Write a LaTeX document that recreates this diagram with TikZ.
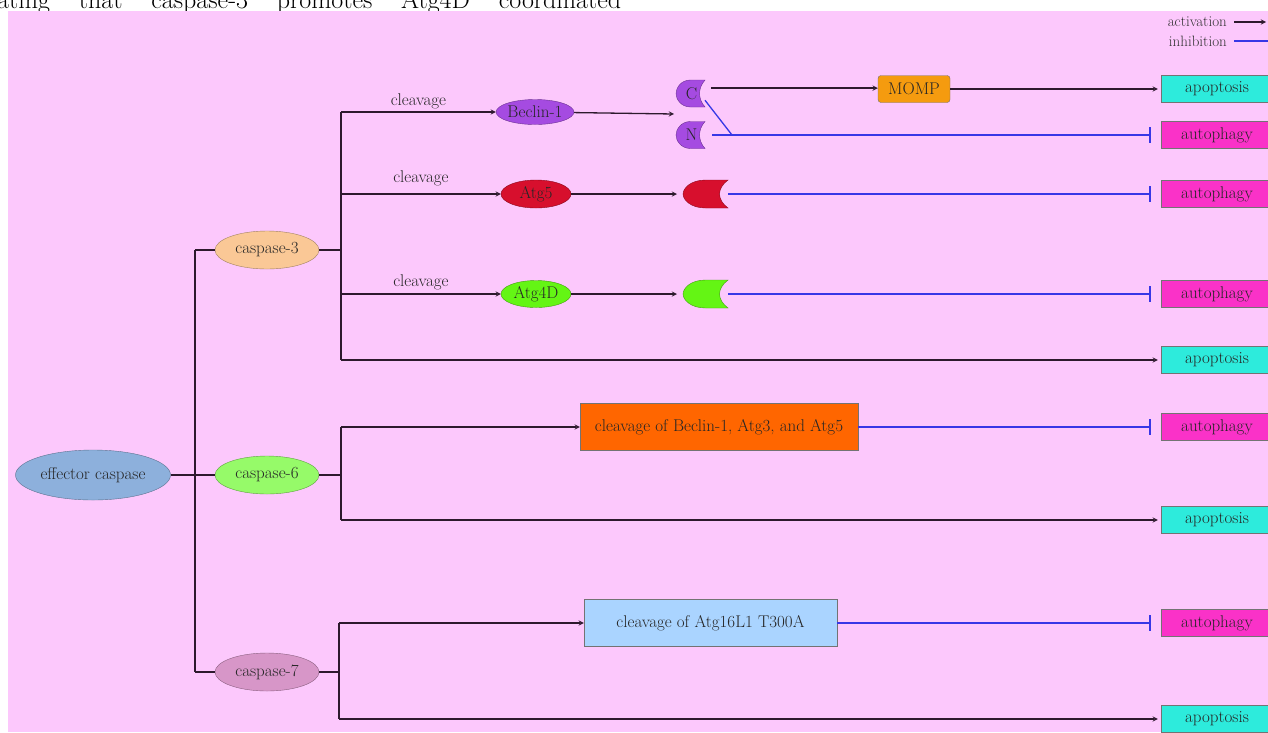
\documentclass[tikz,border=0pt]{standalone}
\usepackage{tikz}
\usetikzlibrary{shapes.geometric, arrows, arrows.meta}
\definecolor{bgpink}{RGB}{252,200,252}
\definecolor{darkline}{RGB}{45,25,45}
\definecolor{inhblue}{RGB}{55,55,230}
\definecolor{effblue}{RGB}{141,176,220}
\definecolor{peach}{RGB}{250,200,150}
\definecolor{lgreen}{RGB}{150,250,105}
\definecolor{mauve}{RGB}{215,150,200}
\definecolor{becpurple}{RGB}{165,75,225}
\definecolor{atgred}{RGB}{215,15,45}
\definecolor{atggreen}{RGB}{100,245,20}
\definecolor{mompor}{RGB}{245,155,15}
\definecolor{cleavor}{RGB}{255,102,0}
\definecolor{cleavblue}{RGB}{170,212,255}
\definecolor{apocyan}{RGB}{45,235,220}
\definecolor{autmag}{RGB}{250,50,200}
\tikzset{
	ellnode/.style={ellipse, inner sep=0pt, draw=#1!65!black, fill=#1, text=black!85, font=\fontsize{17}{20}\selectfont},
	boxnode/.style={rectangle, inner sep=0pt, draw=black!55, fill=#1, text=black!85, font=\fontsize{17}{20}\selectfont},
	outbox/.style={boxnode=#1, minimum width=112pt, minimum height=27pt},
	fragtext/.style={inner sep=0pt, text=black!85, font=\fontsize{17}{20}\selectfont},
	lbl/.style={inner sep=2pt, text=black!85, font=\fontsize{17}{20}\selectfont},
	legtext/.style={inner sep=0pt, text=black!80, font=\fontsize{15}{17}\selectfont},
	trunk/.style={line width=1.3pt, draw=darkline},
	arrow/.style={trunk,->,>=stealth},
	inhline/.style={line width=1.3pt, draw=inhblue},
	inhib/.style={inhline,-{Bar[width=16pt,line width=1.5pt]}},
	pics/fragment/.style n args={3}{code={
		\path[pic actions] ({#1/2},{-#2/2}) -- (0,{-#2/2})
			.. controls ({-#1/3},{-#2/2}) and ({-#1/2},{-#2/5}) .. ({-#1/2},0)
			.. controls ({-#1/2},{#2/5}) and ({-#1/3},{#2/2}) .. (0,{#2/2})
			-- ({#1/2},{#2/2})
			.. controls ({#1/4},{#2/5}) and ({#1/4},{-#2/5}) .. cycle;
		\node[fragtext] at (1,0) {#3};
		\coordinate (-in) at ({-#1/2},0);
		\coordinate (-out) at ({#1/2},0);
		\coordinate (-ne) at ({#1/2},{-#2/5});
		\coordinate (-se) at ({#1/2},{#2/4});
	}}
}
\begin{document}
\begin{tikzpicture}[x=1pt, y=-1pt]
	\useasboundingbox (0,0) rectangle (1268,732);
	
	% Texto cortado acima da figura
	\begin{scope}
		\clip (0,0) rectangle (1268,11);
		\node[anchor=base west, inner sep=0pt, font=\fontsize{26}{30}\selectfont] (captxt) at (-3,8) {\makebox[624pt][s]{ating that caspase-3 promotes Atg4D coordinated}};
	\end{scope}
	\clip (0,0) rectangle (1268,732);
	\fill[bgpink] (8,11) rectangle (1268,732);
	
	% Legenda
	\node[legtext, anchor=east] (lact) at (1227,22) {activation};
	\node[legtext, anchor=east] (linh) at (1227,41) {inhibition};
	\coordinate (lacte) at (1266,22);
	\coordinate (linhe) at (1268,41);
	\draw[arrow, shorten <=7pt] (lact.east) -- (lacte);
	\draw[inhline, shorten <=7pt] (linh.east) -- (linhe);
	
	% Caspases
	\node[ellnode=effblue, minimum width=155pt, minimum height=50pt] (eff) at (93,475) {effector caspase};
	\node[ellnode=peach, minimum width=104pt, minimum height=38pt] (c3) at (267,250) {caspase-3};
	\node[ellnode=lgreen, minimum width=104pt, minimum height=38pt] (c6) at (267,475) {caspase-6};
	\node[ellnode=mauve, minimum width=104pt, minimum height=38pt] (c7) at (267,672) {caspase-7};
	
	\coordinate (tr) at (195,475);
	\coordinate (tr3) at (195,250);
	\coordinate (tr7) at (195,672);
	\draw[trunk] (eff) -- (tr) -- (c6);
	\draw[trunk] (tr3) -- (tr7);
	\draw[trunk] (tr3) -- (c3);
	\draw[trunk] (tr7) -- (c7);
	
	% Resultados
	\node[outbox=apocyan] (apo1) at (1217,89) {apoptosis};
	\node[outbox=autmag] (aut1) at (1217,135) {autophagy};
	\node[outbox=autmag] (aut2) at (1217,194) {autophagy};
	\node[outbox=autmag] (aut3) at (1217,294) {autophagy};
	\node[outbox=apocyan] (apo2) at (1217,360) {apoptosis};
	\node[outbox=autmag] (aut4) at (1217,427) {autophagy};
	\node[outbox=apocyan] (apo3) at (1217,520) {apoptosis};
	\node[outbox=autmag] (aut5) at (1217,623) {autophagy};
	\node[outbox=apocyan] (apo4) at (1217,719) {apoptosis};
	
	% Caspase-3
	\coordinate (s3) at (341,250);
	\coordinate (b3a) at (341,112);
	\coordinate (b3b) at (341,194);
	\coordinate (b3c) at (341,294);
	\coordinate (b3d) at (341,360);
	\draw[trunk] (c3) -- (s3);
	\draw[trunk] (b3a) -- (b3d);
	\node[ellnode=becpurple, minimum width=70pt, minimum height=25pt] (beclin) at (535,112) {Beclin-1};
	\node[ellnode=atgred, minimum width=70pt, minimum height=28pt] (atg5) at (536,194) {Atg5};
	\node[ellnode=atggreen, minimum width=70pt, minimum height=27pt] (atg4d) at (536,294) {Atg4D};
	\draw[arrow] (b3a) -- (beclin) node[lbl, midway, above=0pt] {cleavage};
	\draw[arrow] (b3b) -- (atg5) node[lbl, midway, above=5pt] {cleavage};
	\draw[arrow] (b3c) -- (atg4d) node[lbl, midway, above=1pt] {cleavage};
	
	\pic[fill=becpurple, draw=becpurple!65!black] (fC) at (690.5,93.5) {fragment={29}{27}{C}};
	\pic[fill=becpurple, draw=becpurple!65!black] (fN) at (690.5,135) {fragment={29}{27}{N}};
	\pic[fill=atgred, draw=atgred!65!black] (f5) at (705.5,194) {fragment={45}{28}{}};
	\pic[fill=atggreen, draw=atggreen!65!black] (f4) at (705.5,294) {fragment={45}{28}{}};
	
	\coordinate (cn) at (674,114);
	\coordinate (jn) at (732,135);
	\node[boxnode=mompor, rounded corners=3pt, minimum width=72pt, minimum height=27pt] (momp) at (914,89) {MOMP};
	\draw[arrow] (beclin) -- (cn);
	\draw[arrow, shorten <=6pt] (fC-ne) -- (momp.west |- fC-ne);
	\draw[arrow, shorten >=3pt] (momp) -- (apo1);
	\draw[inhib, shorten <=7pt, shorten >=10pt] (fN-out) -- (aut1);
	\draw[inhline] (fC-se) -- (jn);
	\draw[arrow, shorten >=6pt] (atg5) -- (f5-in);
	\draw[arrow, shorten >=6pt] (atg4d) -- (f4-in);
	\draw[inhib, shorten >=10pt] (f5-out) -- (aut2);
	\draw[inhib, shorten >=10pt] (f4-out) -- (aut3);
	\draw[arrow, shorten >=3pt] (b3d) -- (apo2);
	
	% Caspase-6
	\coordinate (s6) at (341,475);
	\coordinate (b6a) at (341,427);
	\coordinate (b6b) at (341,520);
	\draw[trunk] (c6) -- (s6);
	\draw[trunk] (b6a) -- (b6b);
	\node[boxnode=cleavor, minimum width=278pt, minimum height=47pt] (cl6) at (719,427) {cleavage of Beclin-1, Atg3, and Atg5};
	\draw[arrow] (b6a) -- (cl6);
	\draw[inhib, shorten >=10pt] (cl6) -- (aut4);
	\draw[arrow, shorten >=3pt] (b6b) -- (apo3);
	
	% Caspase-7
	\coordinate (s7) at (339,672);
	\coordinate (b7a) at (339,623);
	\coordinate (b7b) at (339,719);
	\draw[trunk] (c7) -- (s7);
	\draw[trunk] (b7a) -- (b7b);
	\node[boxnode=cleavblue, minimum width=253pt, minimum height=47pt] (cl7) at (710.5,623) {cleavage of Atg16L1 T300A};
	\draw[arrow] (b7a) -- (cl7);
	\draw[inhib, shorten >=10pt] (cl7) -- (aut5);
	\draw[arrow, shorten >=3pt] (b7b) -- (apo4);
	
\end{tikzpicture}
\end{document}
